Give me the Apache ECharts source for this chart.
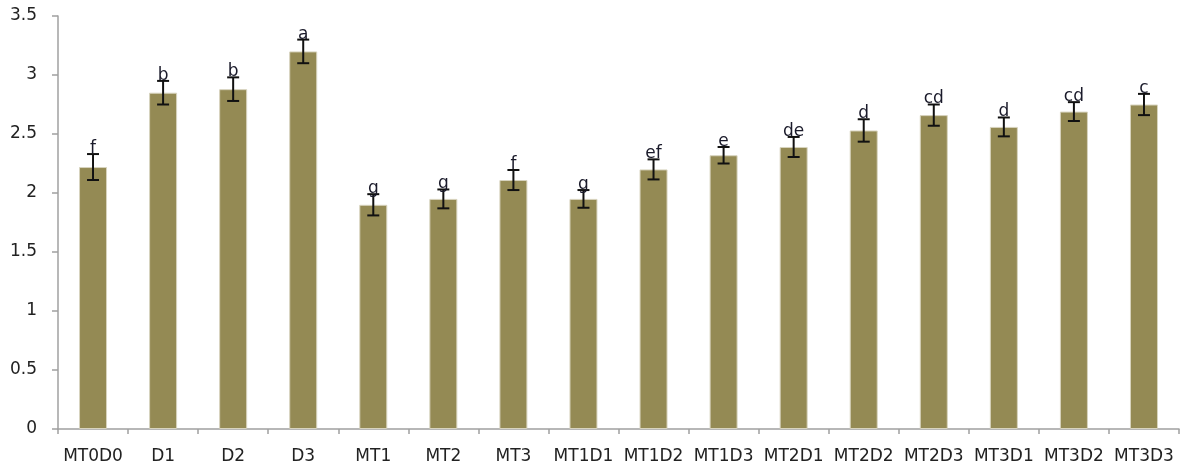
<!DOCTYPE html>
<html>
<head>
<meta charset="utf-8">
<script src="https://cdn.jsdelivr.net/npm/echarts@6/dist/echarts.min.js"></script>
<style>
  html, body { margin: 0; padding: 0; background: #fff; }
  #chart { width: 1184px; height: 466px; }
</style>
</head>
<body>
<div id="chart"></div>
<script>
const categories = ['MT0D0', 'D1', 'D2', 'D3', 'MT1', 'MT2', 'MT3', 'MT1D1', 'MT1D2', 'MT1D3', 'MT2D1', 'MT2D2', 'MT2D3', 'MT3D1', 'MT3D2', 'MT3D3']
const means = [2.22, 2.85, 2.88, 3.20, 1.90, 1.95, 2.11, 1.95, 2.20, 2.32, 2.39, 2.53, 2.66, 2.56, 2.69, 2.75]
const errors = [0.11, 0.10, 0.10, 0.10, 0.09, 0.08, 0.085, 0.075, 0.085, 0.07, 0.085, 0.095, 0.09, 0.08, 0.08, 0.09]
const letters = ['f', 'b', 'b', 'a', 'g', 'g', 'f', 'g', 'ef', 'e', 'de', 'd', 'cd', 'd', 'cd', 'c']

const chart = echarts.init(document.getElementById('chart'))

const errData = categories.map((c, i) => [i, means[i] - errors[i], means[i] + errors[i], letters[i]])

function renderError(params, api) {
  const x = api.value(0)
  const lo = api.coord([x, api.value(1)])
  const hi = api.coord([x, api.value(2)])
  const half = 6
  const style = { stroke: '#111', lineWidth: 2 }
  return {
    type: 'group',
    children: [
      { type: 'line', shape: { x1: hi[0], y1: hi[1], x2: lo[0], y2: lo[1] }, style },
      { type: 'line', shape: { x1: hi[0] - half, y1: hi[1], x2: hi[0] + half, y2: hi[1] }, style },
      { type: 'line', shape: { x1: lo[0] - half, y1: lo[1], x2: lo[0] + half, y2: lo[1] }, style },
      {
        type: 'text',
        style: {
          text: api.value(3),
          x: hi[0], y: hi[1] + 3,
          align: 'center', verticalAlign: 'bottom',
          font: '17px "DejaVu Sans", sans-serif',
          fill: '#1a1a2a'
        }
      }
    ]
  }
}

chart.setOption({
  animation: false,
  grid: { left: 58, right: 5, top: 16, bottom: 37 },
  xAxis: {
    type: 'category',
    data: categories,
    axisLine: { lineStyle: { color: '#a0a0a0', width: 1.5 } },
    axisTick: { show: true, length: 5, alignWithLabel: false, lineStyle: { color: '#a0a0a0', width: 1.5 } },
    axisLabel: { color: '#222', fontSize: 17, fontFamily: 'DejaVu Sans', margin: 19, interval: 0 }
  },
  yAxis: {
    type: 'value',
    min: 0, max: 3.5, interval: 0.5,
    axisLine: { show: true, lineStyle: { color: '#a0a0a0', width: 1.5 } },
    axisTick: { show: true, length: 6, lineStyle: { color: '#a0a0a0', width: 1.5 } },
    splitLine: { show: false },
    axisLabel: { color: '#222', fontSize: 17, fontFamily: 'DejaVu Sans', margin: 21 }
  },
  series: [
    {
      type: 'bar',
      data: means,
      barWidth: 28,
      itemStyle: { color: '#948A54', borderColor: '#d8d4bf', borderWidth: 1 }
    },
    {
      type: 'custom',
      data: errData,
      renderItem: renderError,
      encode: { x: 0, y: [1, 2] },
      z: 10
    }
  ]
})
</script>
</body>
</html>
